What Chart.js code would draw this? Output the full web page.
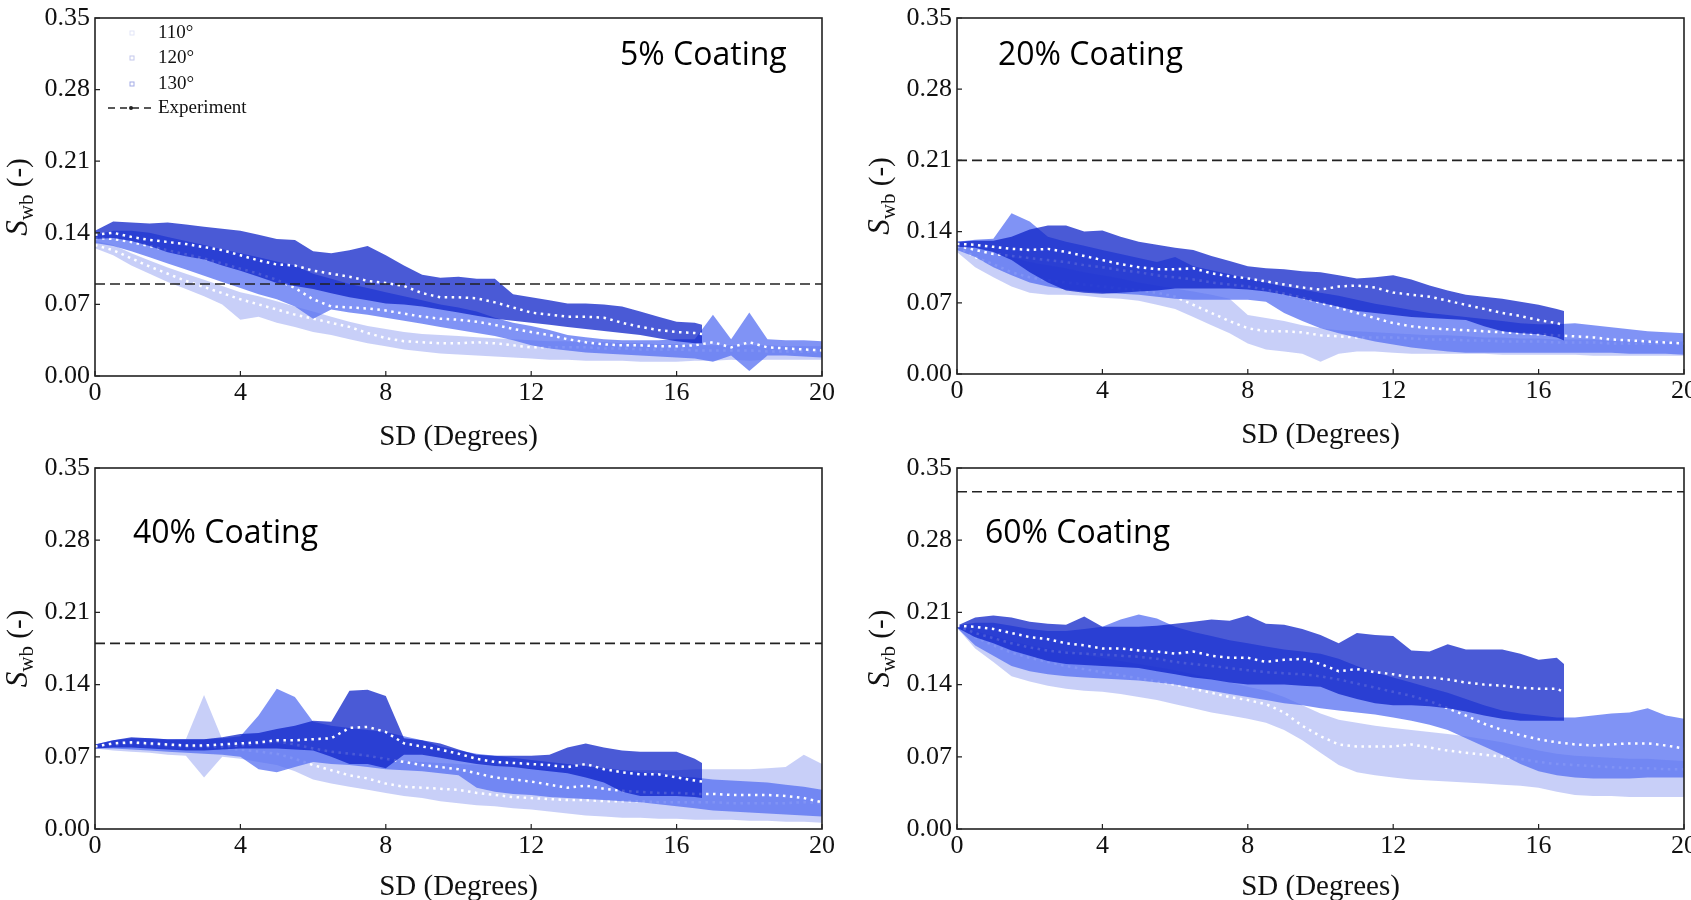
<!DOCTYPE html>
<html>
<head>
<meta charset="utf-8">
<script src="https://cdn.jsdelivr.net/npm/chart.js@4.4.1/dist/chart.umd.min.js"></script>
<style>
  html, body { margin: 0; padding: 0; background: #fff; width: 1691px; height: 900px; overflow: hidden; }
  canvas { position: absolute; }
</style>
</head>
<body>
<canvas id="c5"></canvas>
<canvas id="c20"></canvas>
<canvas id="c40"></canvas>
<canvas id="c60"></canvas>
<script>
// ─── Data ─────────────────────────────────────────────────────────────────────

const SD     = [0,0.5,1,1.5,2,2.5,3,3.5,4,4.5,5,5.5,6,6.5,7,7.5,8,8.5,9,9.5,10,10.5,11,11.5,12,12.5,13,13.5,14,14.5,15,15.5,16,16.5,17,17.5,18,18.5,19,19.5,20];
const SD_130 = [0,0.5,1,1.5,2,2.5,3,3.5,4,4.5,5,5.5,6,6.5,7,7.5,8,8.5,9,9.5,10,10.5,11,11.5,12,12.5,13,13.5,14,14.5,15,15.5,16,16.5,16.7];

const X_TICKS = [0, 4, 8, 12, 16, 20];
const Y_TICKS = [0, 0.07, 0.14, 0.21, 0.28, 0.35];

const ANGLES     = ['110°', '120°', '130°'];
const COATINGS   = ['5% Coating', '20% Coating', '40% Coating', '60% Coating'];
const EXPERIMENT = [0.09, 0.21, 0.18, 0.327];

// 5% coating
const C5_110_LO   = [0.125,0.118,0.108,0.100,0.092,0.085,0.078,0.070,0.055,0.058,0.052,0.048,0.043,0.040,0.036,0.032,0.029,0.026,0.024,0.022,0.021,0.020,0.019,0.018,0.017,0.016,0.016,0.015,0.015,0.015,0.014,0.014,0.014,0.015,0.015,0.016,0.015,0.016,0.016,0.016,0.016];
const C5_110_HI   = [0.132,0.128,0.120,0.113,0.106,0.100,0.094,0.088,0.082,0.078,0.073,0.068,0.063,0.058,0.053,0.049,0.046,0.043,0.041,0.040,0.039,0.038,0.037,0.036,0.035,0.034,0.034,0.033,0.033,0.032,0.032,0.031,0.031,0.030,0.030,0.030,0.030,0.030,0.029,0.029,0.029];
const C5_110_MEAN = [0.128,0.123,0.115,0.107,0.100,0.093,0.087,0.081,0.075,0.070,0.065,0.060,0.056,0.052,0.048,0.042,0.037,0.034,0.033,0.032,0.032,0.033,0.032,0.030,0.028,0.028,0.028,0.028,0.027,0.027,0.026,0.026,0.026,0.025,0.025,0.025,0.025,0.024,0.024,0.024,0.024];
const C5_120_LO   = [0.130,0.127,0.122,0.116,0.110,0.104,0.098,0.092,0.086,0.080,0.075,0.068,0.056,0.065,0.062,0.060,0.057,0.054,0.051,0.048,0.045,0.042,0.039,0.035,0.030,0.027,0.025,0.023,0.022,0.021,0.020,0.019,0.018,0.017,0.014,0.020,0.005,0.020,0.020,0.019,0.018];
const C5_120_HI   = [0.138,0.142,0.142,0.140,0.136,0.132,0.128,0.124,0.120,0.116,0.112,0.108,0.100,0.095,0.090,0.086,0.082,0.078,0.074,0.070,0.067,0.063,0.057,0.052,0.049,0.045,0.040,0.038,0.036,0.035,0.035,0.035,0.036,0.036,0.060,0.036,0.062,0.036,0.035,0.035,0.034];
const C5_120_MEAN = [0.135,0.134,0.131,0.127,0.123,0.119,0.115,0.110,0.105,0.100,0.094,0.086,0.075,0.068,0.067,0.066,0.064,0.061,0.058,0.056,0.055,0.053,0.050,0.046,0.043,0.040,0.036,0.033,0.031,0.030,0.030,0.029,0.029,0.030,0.033,0.028,0.033,0.028,0.027,0.026,0.025];
const C5_130_LO   = [0.134,0.135,0.132,0.127,0.121,0.117,0.114,0.108,0.103,0.097,0.091,0.088,0.085,0.081,0.077,0.074,0.071,0.070,0.068,0.065,0.062,0.059,0.056,0.054,0.052,0.050,0.048,0.046,0.044,0.042,0.040,0.037,0.034,0.032,0.032];
const C5_130_HI   = [0.142,0.151,0.150,0.149,0.150,0.148,0.146,0.144,0.142,0.138,0.134,0.133,0.122,0.120,0.123,0.127,0.118,0.108,0.099,0.096,0.097,0.095,0.095,0.080,0.077,0.074,0.071,0.071,0.070,0.068,0.063,0.058,0.053,0.052,0.050];
const C5_130_MEAN = [0.138,0.140,0.136,0.133,0.131,0.129,0.126,0.123,0.118,0.113,0.109,0.108,0.103,0.100,0.097,0.093,0.091,0.088,0.081,0.077,0.077,0.076,0.072,0.067,0.062,0.060,0.058,0.058,0.057,0.052,0.048,0.045,0.043,0.042,0.041];

// 20% coating
const C20_110_LO   = [0.120,0.105,0.095,0.086,0.080,0.078,0.078,0.077,0.075,0.074,0.072,0.068,0.064,0.056,0.048,0.040,0.030,0.024,0.022,0.020,0.012,0.020,0.022,0.022,0.021,0.020,0.020,0.020,0.020,0.020,0.019,0.019,0.019,0.019,0.019,0.018,0.018,0.018,0.018,0.018,0.018];
const C20_110_HI   = [0.130,0.125,0.120,0.115,0.110,0.107,0.104,0.100,0.097,0.094,0.090,0.087,0.084,0.081,0.078,0.074,0.058,0.055,0.052,0.048,0.045,0.043,0.042,0.041,0.040,0.039,0.038,0.038,0.037,0.036,0.036,0.035,0.035,0.034,0.034,0.034,0.033,0.033,0.033,0.032,0.032];
const C20_110_MEAN = [0.125,0.115,0.108,0.100,0.095,0.092,0.090,0.088,0.086,0.084,0.082,0.080,0.076,0.068,0.060,0.052,0.045,0.042,0.042,0.041,0.038,0.037,0.036,0.036,0.036,0.035,0.034,0.034,0.033,0.033,0.032,0.032,0.032,0.031,0.031,0.031,0.030,0.030,0.030,0.030,0.030];
const C20_120_LO   = [0.122,0.115,0.105,0.097,0.090,0.086,0.083,0.081,0.080,0.079,0.078,0.076,0.074,0.073,0.073,0.073,0.073,0.071,0.060,0.052,0.045,0.040,0.036,0.032,0.029,0.026,0.024,0.022,0.021,0.021,0.021,0.021,0.021,0.021,0.021,0.021,0.021,0.020,0.020,0.020,0.019];
const C20_120_HI   = [0.130,0.132,0.133,0.158,0.150,0.135,0.130,0.126,0.122,0.118,0.114,0.110,0.115,0.106,0.102,0.098,0.094,0.090,0.086,0.083,0.080,0.077,0.073,0.069,0.066,0.063,0.060,0.058,0.056,0.054,0.052,0.050,0.049,0.049,0.050,0.048,0.046,0.044,0.042,0.041,0.040];
const C20_120_MEAN = [0.126,0.122,0.118,0.116,0.114,0.112,0.110,0.107,0.105,0.102,0.100,0.097,0.095,0.093,0.090,0.088,0.086,0.083,0.079,0.075,0.070,0.065,0.060,0.055,0.050,0.047,0.045,0.044,0.043,0.042,0.041,0.040,0.039,0.038,0.037,0.036,0.034,0.033,0.032,0.031,0.030];
const C20_130_LO   = [0.125,0.124,0.120,0.112,0.100,0.090,0.082,0.080,0.079,0.080,0.081,0.082,0.084,0.084,0.084,0.084,0.083,0.081,0.078,0.074,0.070,0.066,0.062,0.060,0.058,0.056,0.055,0.054,0.053,0.047,0.042,0.040,0.039,0.036,0.033];
const C20_130_HI   = [0.130,0.131,0.131,0.135,0.142,0.146,0.146,0.140,0.141,0.135,0.130,0.127,0.124,0.122,0.116,0.111,0.106,0.104,0.103,0.101,0.100,0.097,0.094,0.095,0.097,0.093,0.087,0.082,0.078,0.076,0.074,0.071,0.068,0.064,0.062];
const C20_130_MEAN = [0.128,0.127,0.125,0.123,0.122,0.123,0.120,0.116,0.112,0.108,0.105,0.103,0.103,0.104,0.099,0.096,0.094,0.091,0.088,0.085,0.083,0.086,0.087,0.085,0.080,0.078,0.076,0.072,0.068,0.064,0.060,0.057,0.053,0.050,0.048];

// 40% coating
const C40_110_LO   = [0.078,0.076,0.075,0.074,0.072,0.071,0.050,0.070,0.068,0.065,0.062,0.056,0.048,0.044,0.041,0.038,0.035,0.032,0.030,0.027,0.025,0.023,0.022,0.020,0.019,0.017,0.015,0.013,0.012,0.011,0.011,0.010,0.010,0.009,0.009,0.009,0.008,0.008,0.007,0.007,0.006];
const C40_110_HI   = [0.082,0.085,0.086,0.086,0.086,0.087,0.130,0.087,0.086,0.085,0.083,0.080,0.077,0.074,0.072,0.070,0.068,0.066,0.065,0.064,0.063,0.062,0.061,0.060,0.059,0.058,0.058,0.058,0.057,0.057,0.057,0.057,0.057,0.058,0.058,0.058,0.058,0.059,0.060,0.072,0.063];
const C40_110_MEAN = [0.080,0.081,0.081,0.080,0.079,0.079,0.078,0.078,0.077,0.075,0.073,0.068,0.062,0.057,0.052,0.049,0.044,0.041,0.040,0.039,0.038,0.035,0.033,0.031,0.030,0.029,0.028,0.028,0.027,0.027,0.027,0.026,0.026,0.026,0.026,0.025,0.025,0.025,0.025,0.026,0.025];
const C40_120_LO   = [0.078,0.078,0.077,0.076,0.075,0.074,0.073,0.072,0.070,0.058,0.055,0.060,0.065,0.063,0.062,0.060,0.058,0.057,0.056,0.054,0.052,0.040,0.036,0.034,0.033,0.031,0.030,0.029,0.028,0.027,0.026,0.024,0.022,0.020,0.018,0.017,0.016,0.015,0.014,0.013,0.012];
const C40_120_HI   = [0.082,0.086,0.088,0.088,0.087,0.087,0.087,0.088,0.090,0.110,0.136,0.128,0.104,0.100,0.098,0.096,0.094,0.090,0.086,0.080,0.076,0.073,0.071,0.069,0.067,0.065,0.063,0.061,0.059,0.057,0.055,0.053,0.051,0.050,0.048,0.047,0.046,0.045,0.043,0.041,0.038];
const C40_120_MEAN = [0.080,0.082,0.083,0.082,0.081,0.080,0.080,0.080,0.081,0.083,0.085,0.082,0.078,0.075,0.073,0.071,0.068,0.065,0.062,0.060,0.058,0.054,0.050,0.048,0.046,0.043,0.040,0.042,0.039,0.037,0.036,0.035,0.035,0.034,0.034,0.033,0.033,0.033,0.032,0.030,0.026];
const C40_130_LO   = [0.078,0.079,0.079,0.078,0.077,0.076,0.076,0.077,0.078,0.078,0.078,0.077,0.076,0.070,0.063,0.063,0.059,0.072,0.072,0.069,0.066,0.063,0.061,0.060,0.058,0.056,0.054,0.050,0.045,0.036,0.032,0.032,0.032,0.031,0.030];
const C40_130_HI   = [0.082,0.086,0.089,0.088,0.087,0.087,0.087,0.089,0.092,0.093,0.097,0.100,0.105,0.104,0.134,0.135,0.129,0.088,0.086,0.083,0.077,0.072,0.071,0.071,0.071,0.072,0.079,0.083,0.079,0.076,0.075,0.075,0.075,0.068,0.064];
const C40_130_MEAN = [0.080,0.083,0.084,0.083,0.082,0.081,0.081,0.082,0.083,0.084,0.086,0.086,0.087,0.088,0.098,0.099,0.094,0.083,0.080,0.077,0.073,0.068,0.065,0.064,0.063,0.062,0.060,0.063,0.058,0.055,0.053,0.053,0.050,0.047,0.046];

// 60% coating
const C60_110_LO   = [0.195,0.175,0.162,0.148,0.143,0.139,0.136,0.134,0.133,0.131,0.128,0.125,0.121,0.117,0.113,0.110,0.107,0.103,0.096,0.086,0.074,0.062,0.055,0.052,0.050,0.048,0.047,0.046,0.045,0.044,0.043,0.042,0.040,0.036,0.033,0.032,0.032,0.031,0.031,0.031,0.031];
const C60_110_HI   = [0.197,0.192,0.187,0.182,0.178,0.175,0.172,0.169,0.166,0.163,0.160,0.157,0.154,0.150,0.146,0.142,0.138,0.134,0.128,0.120,0.112,0.106,0.103,0.100,0.098,0.096,0.094,0.092,0.090,0.087,0.084,0.080,0.076,0.073,0.071,0.070,0.069,0.068,0.068,0.067,0.066];
const C60_110_MEAN = [0.197,0.186,0.178,0.171,0.166,0.162,0.158,0.155,0.152,0.149,0.146,0.143,0.140,0.136,0.132,0.128,0.125,0.121,0.113,0.100,0.090,0.082,0.080,0.080,0.080,0.082,0.079,0.076,0.074,0.072,0.070,0.068,0.065,0.063,0.062,0.061,0.060,0.059,0.059,0.058,0.058];
const C60_120_LO   = [0.195,0.178,0.168,0.158,0.153,0.150,0.148,0.147,0.146,0.145,0.144,0.142,0.140,0.137,0.134,0.131,0.128,0.125,0.122,0.120,0.117,0.115,0.113,0.111,0.108,0.105,0.101,0.096,0.088,0.080,0.072,0.063,0.056,0.052,0.050,0.049,0.049,0.049,0.050,0.050,0.050];
const C60_120_HI   = [0.197,0.200,0.200,0.197,0.194,0.192,0.192,0.194,0.196,0.203,0.208,0.204,0.196,0.191,0.187,0.183,0.180,0.177,0.174,0.172,0.170,0.165,0.158,0.152,0.147,0.142,0.137,0.132,0.126,0.120,0.115,0.112,0.110,0.108,0.108,0.110,0.112,0.113,0.117,0.110,0.107];
const C60_120_MEAN = [0.197,0.190,0.185,0.180,0.176,0.173,0.171,0.170,0.169,0.168,0.167,0.165,0.162,0.160,0.158,0.156,0.154,0.152,0.151,0.150,0.148,0.145,0.141,0.137,0.133,0.129,0.124,0.117,0.110,0.102,0.096,0.091,0.087,0.084,0.082,0.081,0.082,0.083,0.083,0.081,0.078];
const C60_130_LO   = [0.195,0.186,0.180,0.173,0.168,0.163,0.160,0.159,0.158,0.157,0.156,0.153,0.150,0.147,0.145,0.142,0.140,0.140,0.140,0.139,0.138,0.131,0.126,0.122,0.120,0.120,0.119,0.117,0.114,0.110,0.107,0.105,0.105,0.105,0.105];
const C60_130_HI   = [0.197,0.205,0.207,0.205,0.201,0.199,0.198,0.206,0.196,0.196,0.196,0.197,0.199,0.201,0.203,0.202,0.207,0.199,0.198,0.194,0.188,0.180,0.190,0.188,0.187,0.173,0.172,0.179,0.174,0.174,0.174,0.170,0.164,0.166,0.160];
const C60_130_MEAN = [0.197,0.196,0.194,0.190,0.186,0.184,0.180,0.178,0.175,0.175,0.173,0.172,0.170,0.172,0.168,0.166,0.166,0.162,0.164,0.165,0.160,0.153,0.155,0.152,0.150,0.147,0.147,0.145,0.142,0.140,0.139,0.137,0.136,0.136,0.133];

// ─── Styles & layout ──────────────────────────────────────────────────────────

const BAND_COLORS   = ['rgba(98,118,235,0.35)', 'rgba(86,111,242,0.75)', 'rgba(14,35,200,0.75)'];
const LEGEND_MARKS  = ['#e2e5f7', '#c3c7ec', '#a3abe6'];
const SERIF = '"Liberation Serif", "Times New Roman", serif';

const PANELS = [
    { id: 'c5',  left: 0,   top: 0,   w: 850, h: 455, area: { l: 95,  t: 14, r: 822, b: 376 }, labelX: 620, labelY: 65, legend: true,
      lo: [C5_110_LO, C5_120_LO, C5_130_LO], hi: [C5_110_HI, C5_120_HI, C5_130_HI], mean: [C5_110_MEAN, C5_120_MEAN, C5_130_MEAN] },
    { id: 'c20', left: 850, top: 0,   w: 860, h: 453, area: { l: 107, t: 13, r: 834, b: 374 }, labelX: 148, labelY: 65, legend: false,
      lo: [C20_110_LO, C20_120_LO, C20_130_LO], hi: [C20_110_HI, C20_120_HI, C20_130_HI], mean: [C20_110_MEAN, C20_120_MEAN, C20_130_MEAN] },
    { id: 'c40', left: 0,   top: 450, w: 850, h: 455, area: { l: 95,  t: 17, r: 822, b: 379 }, labelX: 133, labelY: 93, legend: false,
      lo: [C40_110_LO, C40_120_LO, C40_130_LO], hi: [C40_110_HI, C40_120_HI, C40_130_HI], mean: [C40_110_MEAN, C40_120_MEAN, C40_130_MEAN] },
    { id: 'c60', left: 850, top: 450, w: 860, h: 455, area: { l: 107, t: 16, r: 834, b: 379 }, labelX: 135, labelY: 93, legend: false,
      lo: [C60_110_LO, C60_120_LO, C60_130_LO], hi: [C60_110_HI, C60_120_HI, C60_130_HI], mean: [C60_110_MEAN, C60_120_MEAN, C60_130_MEAN] },
];

// ─── Decorations: frame, inward ticks, y title, panel label, legend ──────────

const panelDecor = {
    id: 'panelDecor',
    afterDraw(chart, args, opts) {
        const { ctx, chartArea: a, scales: { x, y } } = chart;
        ctx.save();

        ctx.strokeStyle = '#222';
        ctx.lineWidth = 1.2;
        ctx.beginPath();
        X_TICKS.forEach(v => { const px = x.getPixelForValue(v); ctx.moveTo(px, a.bottom); ctx.lineTo(px, a.bottom - 5); });
        Y_TICKS.forEach(v => { const py = y.getPixelForValue(v); ctx.moveTo(a.left, py); ctx.lineTo(a.left + 5, py); });
        ctx.stroke();

        ctx.lineWidth = 1.6;
        ctx.strokeRect(a.left, a.top, a.right - a.left, a.bottom - a.top);

        // S_wb (-)
        ctx.save();
        ctx.translate(a.left - 68, (a.top + a.bottom) / 2);
        ctx.rotate(-Math.PI / 2);
        ctx.fillStyle = '#111';
        ctx.textBaseline = 'alphabetic';
        ctx.textAlign = 'left';
        const fS = 'italic 31px ' + SERIF, fSub = '21px ' + SERIF, fRest = '29px ' + SERIF;
        ctx.font = fS;    const wS = ctx.measureText('S').width;
        ctx.font = fSub;  const wSub = ctx.measureText('wb').width;
        ctx.font = fRest; const wRest = ctx.measureText(' (-)').width;
        let cx = -(wS + wSub + wRest) / 2;
        ctx.font = fS;    ctx.fillText('S', cx, 0); cx += wS;
        ctx.font = fSub;  ctx.fillText('wb', cx, 6); cx += wSub;
        ctx.font = fRest; ctx.fillText(' (-)', cx, 0);
        ctx.restore();

        ctx.fillStyle = '#000';
        ctx.font = '32px "Open Sans", "Noto Sans", sans-serif';
        ctx.textBaseline = 'alphabetic';
        ctx.fillText(opts.label, opts.labelX, opts.labelY);

        if (opts.legend) {
            ctx.font = '19px ' + SERIF;
            ctx.textBaseline = 'middle';
            ctx.fillStyle = '#111';
            const rows = [33, 58, 84, 108];
            ANGLES.forEach((name, i) => {
                ctx.strokeStyle = LEGEND_MARKS[i];
                ctx.lineWidth = 1;
                ctx.strokeRect(130, rows[i] - 2, 4, 4);
                ctx.fillText(name, 158, rows[i]);
            });
            ctx.strokeStyle = '#222';
            ctx.lineWidth = 1.5;
            ctx.setLineDash([7, 5]);
            ctx.beginPath(); ctx.moveTo(108, rows[3]); ctx.lineTo(154, rows[3]); ctx.stroke();
            ctx.setLineDash([]);
            ctx.fillStyle = '#222';
            ctx.beginPath(); ctx.arc(131, rows[3], 2, 0, Math.PI * 2); ctx.fill();
            ctx.fillStyle = '#111';
            ctx.fillText('Experiment', 158, rows[3]);
        }
        ctx.restore();
    }
};

// ─── Charts ──────────────────────────────────────────────────────────────────

function pts(xs, ys) {
    return ys.map((v, i) => ({ x: xs[i], y: v }));
}

function buildDatasets(p, exp) {
    const ds = [];
    [0, 1, 2].forEach(k => {
        const xs = k === 2 ? SD_130 : SD;
        const base = ds.length;
        const order = 9 - k * 2;
        ds.push({ label: ANGLES[k] + ' min', data: pts(xs, p.lo[k]), borderColor: 'rgba(0,0,0,0)', borderWidth: 0, pointRadius: 0, fill: false, order });
        ds.push({ label: ANGLES[k], data: pts(xs, p.hi[k]), borderColor: 'rgba(0,0,0,0)', borderWidth: 0, pointRadius: 0,
                  backgroundColor: BAND_COLORS[k], fill: base, order });
        ds.push({ label: ANGLES[k] + ' mean', data: pts(xs, p.mean[k]), borderColor: '#ffffff', borderWidth: 2.5,
                  borderDash: [2.5, 4.5], borderCapStyle: 'butt', pointRadius: 0, fill: false, order: order - 1 });
    });
    ds.push({ label: 'Experiment', data: [{ x: SD[0], y: exp }, { x: SD[SD.length - 1], y: exp }],
              borderColor: '#222', borderWidth: 1.6, borderDash: [10, 5], pointRadius: 0, fill: false, order: 1 });
    return ds;
}

PANELS.forEach((p, i) => {
    const cv = document.getElementById(p.id);
    cv.width = p.w; cv.height = p.h;
    cv.style.left = p.left + 'px'; cv.style.top = p.top + 'px';
    const a = p.area;

    new Chart(cv, {
        type: 'line',
        data: { datasets: buildDatasets(p, EXPERIMENT[i]) },
        plugins: [panelDecor],
        options: {
            responsive: false,
            animation: false,
            layout: { padding: { top: a.t, right: p.w - a.r, left: 0, bottom: 0 } },
            plugins: {
                legend: { display: false },
                tooltip: { enabled: false },
                panelDecor: { label: COATINGS[i], labelX: p.labelX, labelY: p.labelY, legend: p.legend }
            },
            scales: {
                x: {
                    type: 'linear', min: 0, max: 20,
                    afterBuildTicks: s => { s.ticks = X_TICKS.map(v => ({ value: v })); },
                    afterFit: s => { s.height = p.h - a.b; },
                    grid: { display: false, drawTicks: false },
                    border: { display: false },
                    ticks: { font: { family: SERIF, size: 26 }, color: '#111', padding: 2, maxRotation: 0, autoSkip: false,
                             callback: v => String(v) },
                    title: { display: true, text: 'SD (Degrees)', font: { family: SERIF, size: 29 }, color: '#111', padding: 0 }
                },
                y: {
                    type: 'linear', min: 0, max: 0.35,
                    afterBuildTicks: s => { s.ticks = Y_TICKS.map(v => ({ value: v })); },
                    afterFit: s => { s.width = a.l; },
                    grid: { display: false, drawTicks: false },
                    border: { display: false },
                    ticks: { font: { family: SERIF, size: 26, lineHeight: 1 }, color: '#111', padding: 5,
                             callback: v => v.toFixed(2) }
                }
            }
        }
    });
});
</script>
</body>
</html>
